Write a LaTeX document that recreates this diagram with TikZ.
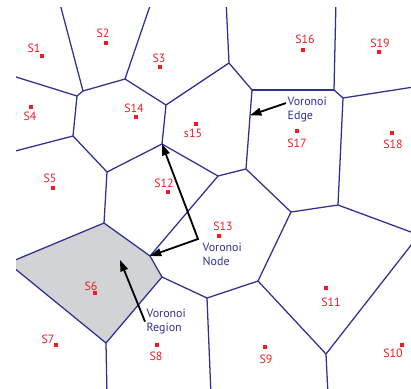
\documentclass[tikz,border=0pt]{standalone}
\usepackage{fontspec}
\setmainfont{PT Sans}
\usetikzlibrary{arrows.meta,calc}
\definecolor{colEdge}{RGB}{46,49,146}
\definecolor{colSite}{RGB}{237,28,36}
\definecolor{colRegion}{RGB}{209,211,212}

\begin{document}
\begin{tikzpicture}[x=0.025cm, y=-0.025cm, every node/.style={font=\fontsize{8.5}{10.5}\selectfont},
    vedge/.style={colEdge, line width=0.9pt},
    site/.style={fill=colSite, inner sep=0pt, minimum size=2.6pt},
    sitelbl/.style={colSite, inner sep=0pt},
    note/.style={colEdge, align=left, inner sep=1pt, anchor=north west},
    pointer/.style={line width=1.3pt, >={Triangle[length=8pt,width=5.5pt]}}]
    \useasboundingbox (0,0) rectangle (411,388);

    % voronoi nodes (pixel grid of the plot)
    \foreach \vn/\x/\y in {v1/83/91, v2/125/79, v3/166/105, v4/162/144, v5/107/172,
        v6/73/136, v7/77/96, v8/229/63, v9/252/90, v10/334/90, v11/343/98,
        v12/338/205, v13/246/169, v14/218/176, v15/291/212, v16/258/281,
        v17/207/298, v18/162/277, v19/326/354, v20/104/223, v21/150/256,
        v22/106/343, v23/419/235, v24/8/263} {
        \coordinate (\vn) at (\x,\y);
    }
    % open ends past the frame
    \foreach \vn/\x/\y in {b1/59/0, b2/152/0, b3/226/0, b4/336/0, b5/0/72,
        b6/0/155, b7/420/86, b8/211/395, b9/328/395, b10/107/395} {
        \coordinate (\vn) at (\x,\y);
    }

    \begin{scope}
        \clip (16,7) rectangle (411,388);
        % the marked region of S6
        \fill[colRegion] (v20) -- (v21) -- (v18) -- (v22) -- (v24) -- cycle;
        % voronoi edges
        \foreach \a/\b in {v1/v2, v1/v7, v1/b1, v2/v3, v2/b2, v3/v4, v3/v8,
            v4/v5, v4/v14, v5/v6, v5/v20, v6/v7, v6/b6, v7/b5, v8/v9, v8/b3,
            v9/v10, v9/v13, v10/v11, v10/b4, v11/v12, v11/b7, v12/v15, v12/v23,
            v13/v14, v13/v15, v14/v21, v15/v16, v16/v17, v16/v19, v17/v18,
            v17/b8, v18/v21, v18/v22, v19/v23, v19/b9, v20/v21, v20/v24,
            v22/v24, v22/b10} {
            \draw[vedge] (\a) -- (\b);
        }
    \end{scope}

    % sites
    \foreach \n/\x/\y/\lx/\ly in {S1/42/56/34/48, S2/106/43/103/33, S3/160/67/159/58,
        S4/31/107/30/116, S14/136/117/134/108, s15/196/124/193/133,
        S5/53/188/50/178, S12/168/192/164/183, S16/303/50/305/39,
        S19/379/52/380/43, S17/297/131/297/143, S18/392/133/393/144,
        S13/219/236/223/226, S11/326/288/331/302, S9/265/347/266/359,
        S10/402/345/393/353, S6/95/293/91/286, S7/56/345/48/339,
        S8/157/345/156/356} {
        \node[site] (\n) at (\x,\y) {};
        \node[sitelbl] (l\n) at (\lx,\ly) {\n};
    }

    % annotations
    \node[note] (edgeLbl) at (286,95) {Voronoi\\Edge};
    \node[note] (nodeLbl) at (201,241) {Voronoi\\Node};
    \node[note] (regionLbl) at (145,307) {Voronoi\\Region};

    \coordinate (edgePt) at ($(v9)!0.32!(v13)$);
    \coordinate (nodeBend) at (198,239);
    \coordinate (regionPt) at (120,260);

    \draw[pointer, ->] (edgeLbl.163) -- (edgePt);
    \draw[pointer, <->] (v4) -- (nodeBend) -- (v21);
    \draw[pointer, ->] (regionLbl.west) -- (regionPt);
\end{tikzpicture}
\end{document}
